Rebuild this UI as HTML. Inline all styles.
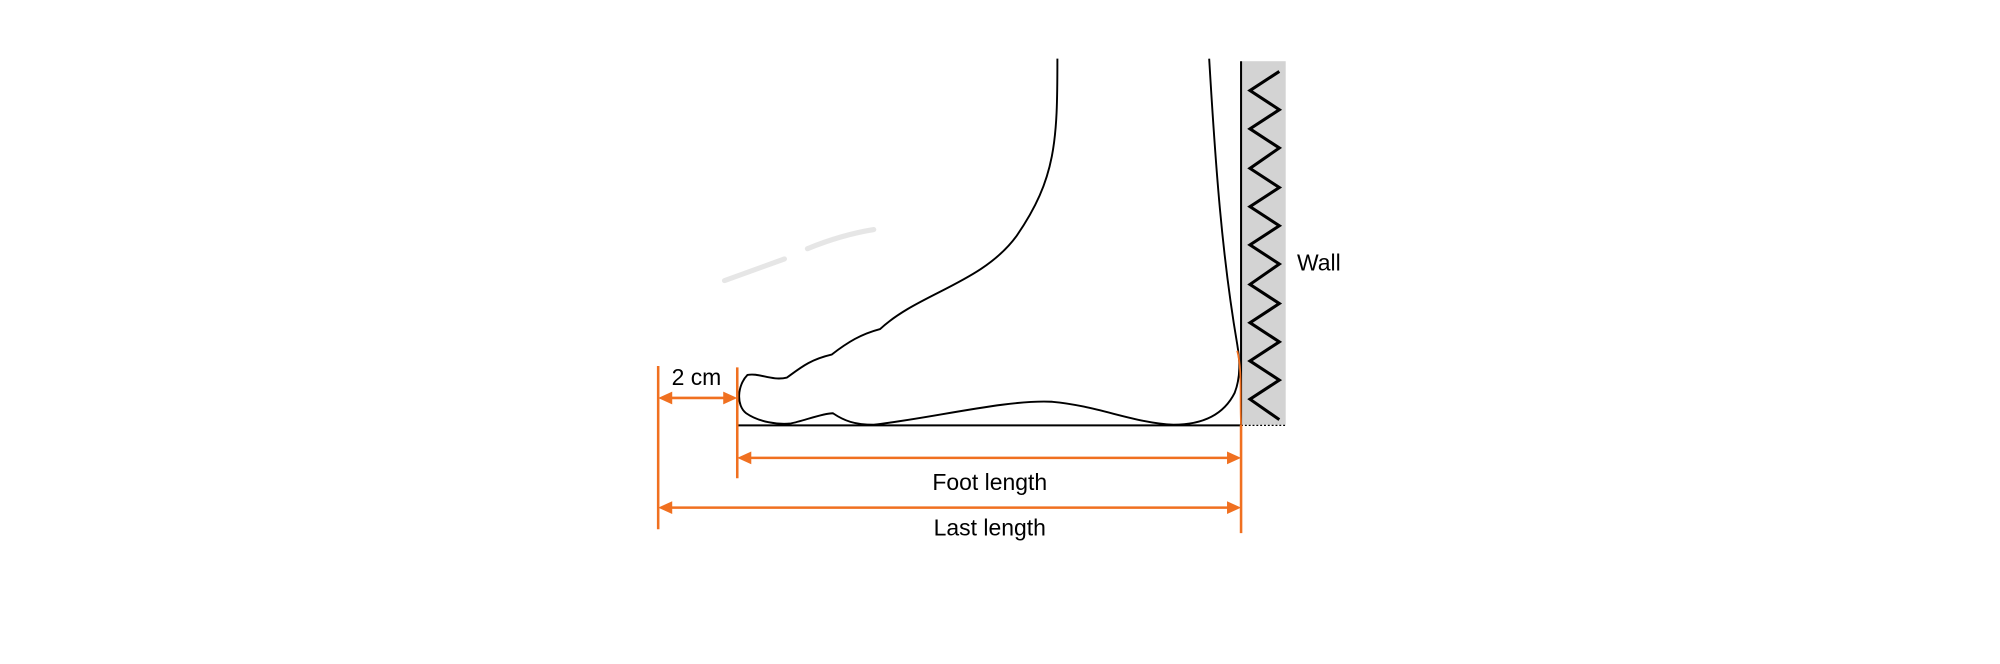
<!DOCTYPE html>
<html><head><meta charset="utf-8"><style>html,body{margin:0;padding:0;background:#fff}svg{display:block}</style></head>
<body>
<svg width="2000" height="664" viewBox="0 0 1568 520.6" xmlns="http://www.w3.org/2000/svg">
<rect x="973" y="48" width="35" height="285" fill="#d3d3d3"/>
<line x1="973" y1="48" x2="973" y2="333" stroke="#000" stroke-width="1.6"/>
<polyline fill="none" stroke="#000" stroke-width="2.4" stroke-linejoin="miter" points="1003,56 980,71 1003,86 980,101 1003,116 980,132 1003,147 980,162 1003,177 980,192 1003,207 980,223 1003,238 980,253 1003,268 980,283 1003,298 980,313 1003,329"/>
<line x1="578" y1="333.5" x2="973" y2="333.5" stroke="#000" stroke-width="1.6"/>
<line x1="973" y1="333.5" x2="1008" y2="333.5" stroke="#000" stroke-width="1" stroke-dasharray="1.5,1.5"/>
<path d="M568,220 Q590,212 615,203 M633,195 Q660,184 685,180" stroke="#e6e6e6" stroke-width="4" fill="none" stroke-linecap="round"/>
<path fill="none" stroke="#000" stroke-width="1.5" d="M829,46 C829,110 828,140 797,185 C770,222 720,230 690,258 C675,262 665,268 652,278 C635,282 628,288 617,296 C605,299 595,292 586,294 C578,302 577,318 585,324 C595,331 610,333 620,332 C630,330 645,324 653,324 C662,330 670,333 685,333 C730,328 790,313 825,315 C860,318 890,332 920,333 C945,333 960,324 968,308 C973,295 972,282 970,270 C958,200 953,130 948,46"/>
<path d="M970,275 C974,290 972,310 973,333" stroke="#f07020" stroke-width="1.4" fill="none"/>
<g stroke="#f07020" stroke-width="2" fill="#f07020">
<line x1="516" y1="287" x2="516" y2="415"/>
<line x1="578" y1="288" x2="578" y2="375"/>
<line x1="973" y1="333" x2="973" y2="418"/>
<line x1="522" y1="312" x2="572" y2="312"/>
<line x1="584" y1="359" x2="967" y2="359"/>
<line x1="522" y1="398" x2="967" y2="398"/>
<polygon stroke="none" points="516,312 527,307 527,317"/>
<polygon stroke="none" points="578,312 567,307 567,317"/>
<polygon stroke="none" points="578,359 589,354 589,364"/>
<polygon stroke="none" points="973,359 962,354 962,364"/>
<polygon stroke="none" points="516,398 527,393 527,403"/>
<polygon stroke="none" points="973,398 962,393 962,403"/>
</g>
<g font-family="Liberation Sans, sans-serif" font-size="18" fill="#000" text-anchor="middle">
<text x="546" y="302">2 cm</text>
<text x="776" y="384">Foot  length</text>
<text x="776" y="420">Last  length</text>
<text x="1034" y="212">Wall</text>
</g>
</svg>
</body></html>
